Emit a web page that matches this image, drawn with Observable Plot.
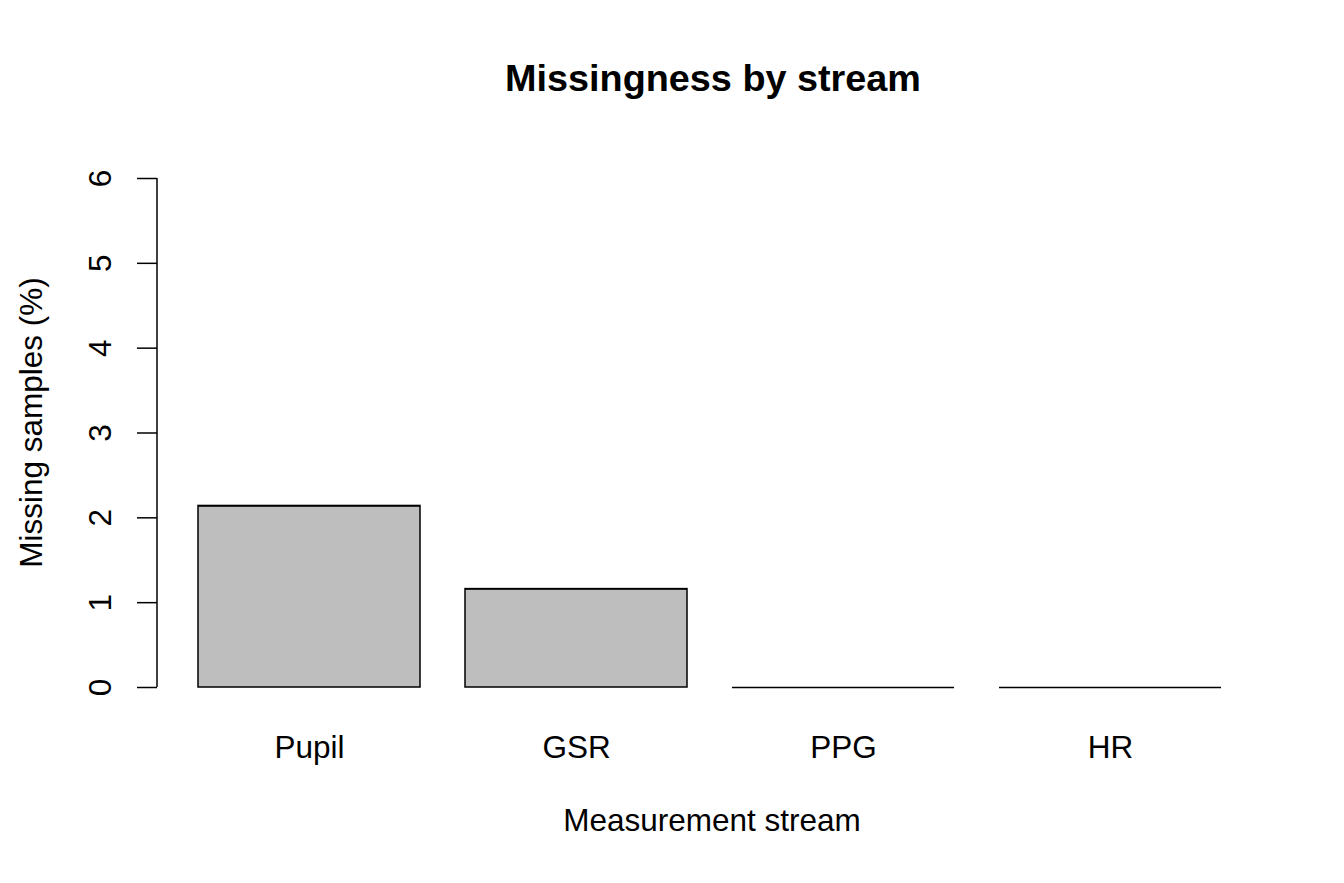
<!DOCTYPE html>
<html>
<head>
<meta charset="utf-8">
<script src="https://cdn.jsdelivr.net/npm/d3@7"></script>
<script src="https://cdn.jsdelivr.net/npm/@observablehq/plot@0.6"></script>
<style>
  html, body { margin: 0; padding: 0; background: #ffffff; }
  #chart svg { display: block; }
</style>
</head>
<body>
<div id="chart"></div>
<script>
// ---- data ----
const streams = ["Pupil", "GSR", "PPG", "HR"];
const missingPct = [2.14, 1.16, 0, 0];
const yTicks = [0, 1, 2, 3, 4, 5, 6];
const titleText = "Missingness by stream";
const xLabel = "Measurement stream";
const yLabel = "Missing samples (%)";

const data = streams.map((s, i) => ({stream: s, pct: missingPct[i]}));

const FONT = "'Liberation Sans', Arial, Helvetica, sans-serif";
const FS = 31.5, TFS = 37.8;
const W = 1344, H = 883;
const mL = 157, mR = 81, mT = 178, mB = 196;

const chart = Plot.plot({
  width: W,
  height: H,
  marginLeft: mL,
  marginRight: mR,
  marginTop: mT,
  marginBottom: mB,
  style: {fontFamily: FONT, fontSize: FS + "px", background: "#ffffff", color: "#000000"},
  x: {domain: streams, paddingInner: 0.2 / 1.2, paddingOuter: 0.184 / 1.2, align: 0.5},
  y: {domain: [0, 6]},
  marks: [
    Plot.barY(data, {x: "stream", y: "pct", fill: "#bebebe", stroke: "#000000", strokeWidth: 1.5}),
    Plot.tickY(data, {x: "stream", y: "pct", stroke: "#000000", strokeWidth: 1.5}),
    Plot.axisY({ticks: yTicks, tickSize: 20, tickFormat: () => "", label: null, stroke: "#000000", strokeWidth: 1.5}),
    Plot.text(yTicks, {y: d => d, text: d => String(d), frameAnchor: "left", dx: -57, rotate: -90,
      textAnchor: "middle", lineAnchor: "middle", fontSize: FS, fontFamily: FONT, fill: "#000000"}),
    Plot.axisX({tickSize: 0, tickPadding: 48, label: null, fontSize: FS, fontFamily: FONT, fill: "#000000"}),
    Plot.text([xLabel], {text: d => d, frameAnchor: "bottom", dy: 133, dx: 1.5,
      textAnchor: "middle", lineAnchor: "middle", fontSize: FS, fontFamily: FONT, fill: "#000000"}),
    Plot.text([yLabel], {text: d => d, frameAnchor: "left", dx: -125.5, dy: -10.5, rotate: -90,
      textAnchor: "middle", lineAnchor: "middle", fontSize: FS, fontFamily: FONT, fill: "#000000"}),
    Plot.text([titleText], {text: d => d, frameAnchor: "top", dy: -99.2, dx: 2.5,
      textAnchor: "middle", lineAnchor: "middle", fontSize: TFS, fontWeight: "bold", fontFamily: FONT, fill: "#000000"})
  ]
});

// y axis line spanning the tick range, positioned with the plot's own y scale
const ys = chart.scale("y");
d3.select(chart).append("line")
  .attr("x1", mL).attr("x2", mL)
  .attr("y1", ys.apply(yTicks[0])).attr("y2", ys.apply(yTicks[yTicks.length - 1]))
  .attr("stroke", "#000000").attr("stroke-width", 1.5);

document.getElementById("chart").appendChild(chart);
</script>
</body>
</html>
